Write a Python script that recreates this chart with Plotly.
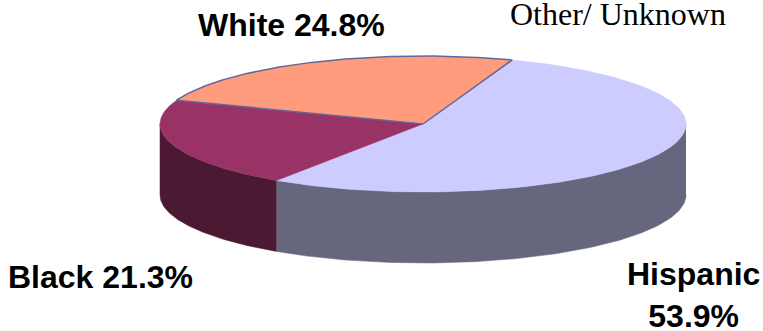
import numpy as np
import plotly.graph_objects as go

categories = ["Hispanic", "Black", "White"]
values = [53.9, 21.3, 24.8]
label_texts = ["Hispanic<br>53.9%", "Black 21.3%", "White 24.8%"]
note_text = "Other/ Unknown"

top_colors = ["#CCCCFF", "#993366", "#FF9C7E"]
side_colors = ["#66667F", "#4C1933", "#7F4E3F"]
border_color = "#66669A"

W, H = 763, 331
cx, cy, rx, ry, depth = 423, 124, 263, 68, 71
start_deg = 19.8


def pt(a, dy=0.0):
    r = np.radians(a)
    return cx + rx * np.sin(r), cy - ry * np.cos(r) + dy


fig = go.Figure()
edges = start_deg + np.concatenate([[0], np.cumsum(values)]) * 3.6

for i in range(len(values)):
    a0, a1 = max(edges[i], 90), min(edges[i + 1], 270)
    if a1 <= a0:
        continue
    a = np.linspace(a0, a1, 120)
    xt, yt = pt(a)
    xb, yb = pt(a[::-1], depth)
    fig.add_trace(go.Scatter(
        x=np.concatenate([xt, xb]), y=np.concatenate([yt, yb]),
        mode="lines", fill="toself", fillcolor=side_colors[i],
        line=dict(color=side_colors[i], width=0.5), hoverinfo="skip",
    ))

for i in range(len(values)):
    a = np.linspace(edges[i], edges[i + 1], 200)
    xt, yt = pt(a)
    outlined = categories[i] == "White"
    fig.add_trace(go.Scatter(
        x=np.concatenate([[cx], xt, [cx]]), y=np.concatenate([[cy], yt, [cy]]),
        mode="lines", fill="toself", fillcolor=top_colors[i],
        line=dict(color=border_color if outlined else top_colors[i], width=1.5 if outlined else 0.5),
        hoverinfo="skip", name=categories[i],
    ))

font_bold = dict(family="Liberation Sans", size=32, color="#000000")
ann = [
    dict(x=291.5, y=25, text="<b>" + label_texts[2] + "</b>", font=font_bold),
    dict(x=100.5, y=277, text="<b>" + label_texts[1] + "</b>", font=font_bold),
    dict(x=693, y=295, text="<b>" + label_texts[0] + "</b>", font=font_bold),
    dict(x=617.5, y=14, text=note_text, font=dict(family="Liberation Serif", size=32, color="#000000")),
]
for an in ann:
    fig.add_annotation(xref="x", yref="y", showarrow=False, align="center", **an)

fig.update_layout(
    width=W, height=H, margin=dict(l=0, r=0, t=0, b=0), showlegend=False,
    paper_bgcolor="white", plot_bgcolor="white",
    xaxis=dict(visible=False, range=[0, W], fixedrange=True),
    yaxis=dict(visible=False, range=[H, 0], fixedrange=True),
)
fig.write_html("out.html", config=dict(displayModeBar=False), post_script="document.body.style.margin='0';")
